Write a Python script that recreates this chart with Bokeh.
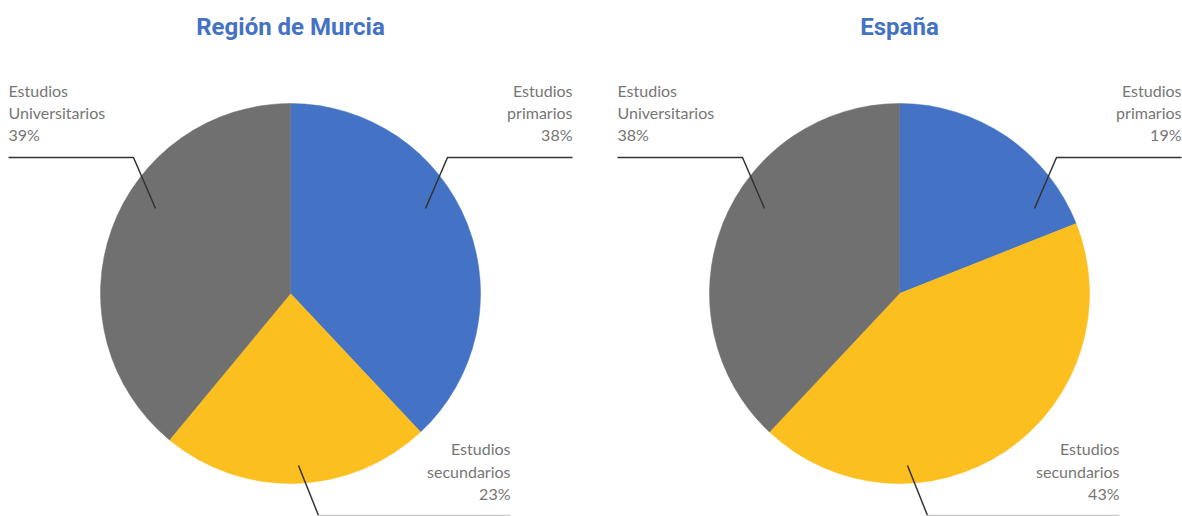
import numpy as np
from bokeh.plotting import figure
from bokeh.models import Range1d, ColumnDataSource
from bokeh.core.properties import value
from bokeh.embed import file_html
from bokeh.resources import INLINE

# ---- data ----
categories = ["Estudios primarios", "Estudios secundarios", "Estudios Universitarios"]
murcia = [38, 23, 39]
espana = [19, 43, 38]
titles = ["Región de Murcia", "España"]
colors = ["#4472C4", "#FBBF1F", "#6F706F"]

W, H = 1182, 516
p = figure(width=W, height=H, output_backend="svg", toolbar_location=None,
           x_range=Range1d(0, W), y_range=Range1d(0, H),
           min_border=0, outline_line_color=None)
p.axis.visible = False
p.grid.visible = False
p.background_fill_color = "white"
p.border_fill_color = "white"

def Y(py):
    return H - py

centers = [290, 899]
cy = 293
R = 190
TEXT_COL = "#767676"
LINE_COL = "#333333"
FONT = value("Lato")

for cx, vals, title in zip(centers, [murcia, espana], titles):
    v = np.array(vals, dtype=float)
    frac = v / v.sum()
    cum = np.concatenate([[0], np.cumsum(frac)])
    start = np.pi / 2 - 2 * np.pi * cum[:-1]
    end = np.pi / 2 - 2 * np.pi * cum[1:]
    src = ColumnDataSource(dict(start=start, end=end, color=colors))
    p.wedge(x=cx, y=Y(cy), radius=R, start_angle="start", end_angle="end",
            direction="clock", fill_color="color", line_color="color",
            line_width=0.5, source=src)

    # title
    p.text(x=[cx], y=[Y(26)], text=[title], text_align="center",
           text_baseline="middle", text_color="#4472C4",
           text_font=value("Roboto"), text_font_size="24px",
           text_font_style="bold")

    pct = [f"{int(round(f * 100))}%" for f in frac]
    # primarios (right, top)
    right_edge = min(cx + 282, W - 1)
    lines = ["Estudios", categories[0].split(" ", 1)[1], pct[0]]
    for i, t in enumerate(lines):
        p.text(x=[right_edge], y=[Y(90 + 22 * i)], text=[t], text_align="right",
               text_baseline="middle", text_color=TEXT_COL, text_font=FONT,
               text_font_size="16px")
    p.line(x=[cx + 135, cx + 157, cx + 282], y=[Y(cy - 85), Y(cy - 136), Y(cy - 136)],
           line_color=LINE_COL, line_width=1.5)

    # universitarios (left, top)
    lines = ["Estudios", categories[2].split(" ", 1)[1], pct[2]]
    for i, t in enumerate(lines):
        p.text(x=[cx - 282], y=[Y(90 + 22 * i)], text=[t], text_align="left",
               text_baseline="middle", text_color=TEXT_COL, text_font=FONT,
               text_font_size="16px")
    p.line(x=[cx - 135, cx - 157, cx - 282], y=[Y(cy - 85), Y(cy - 136), Y(cy - 136)],
           line_color=LINE_COL, line_width=1.5)

    # secundarios (bottom)
    lines = ["Estudios", categories[1].split(" ", 1)[1], pct[1]]
    for i, t in enumerate(lines):
        p.text(x=[cx + 220], y=[Y(448 + 22.5 * i)], text=[t], text_align="right",
               text_baseline="middle", text_color=TEXT_COL, text_font=FONT,
               text_font_size="16px")
    p.line(x=[cx + 8, cx + 28], y=[Y(cy + 172), Y(cy + 222)],
           line_color=LINE_COL, line_width=1.5)
    p.line(x=[cx + 28, cx + 220], y=[Y(cy + 222), Y(cy + 222)],
           line_color="#cccccc", line_width=1.5)

open("out.html", "w").write(file_html(p, INLINE))
